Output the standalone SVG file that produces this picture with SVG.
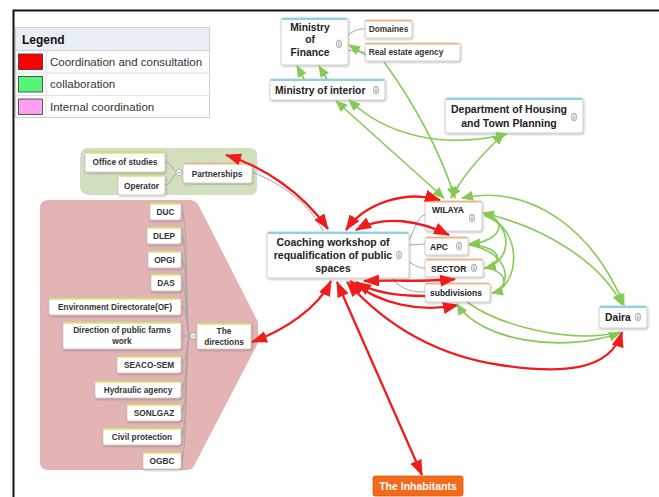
<svg xmlns="http://www.w3.org/2000/svg" xmlns:xlink="http://www.w3.org/1999/xlink" width="659" height="497" viewBox="0 0 659 497">
<style>
.t{font-family:"Liberation Sans",Arial,sans-serif;font-weight:bold;fill:#222}
.s{font-size:8.3px;fill:#333}
.m{font-size:10.3px}
.lg{font-family:"Liberation Sans",Arial,sans-serif;font-size:11.5px;fill:#333}
.box{fill:#fff;stroke:#c4c4c4;stroke-width:0.8}
.red{fill:none;stroke:#f01c1c;stroke-width:2.3}
.grn{fill:none;stroke:#86c954;stroke-width:1.6}
.gry{fill:none;stroke:#a8a8a8;stroke-width:1}
.tb{stroke:#8cd0ea;stroke-width:2.2}
.to{stroke:#f2b27a;stroke-width:1.6}
.ty{stroke:#d9e070;stroke-width:1.8}
</style>
<defs>
<filter id="sh" x="-10%" y="-10%" width="130%" height="140%"><feDropShadow dx="0.8" dy="1.2" stdDeviation="0.8" flood-color="#000" flood-opacity="0.25"/></filter>
<marker id="rh" viewBox="0 0 16 12" refX="15" refY="6" markerWidth="16" markerHeight="12" markerUnits="userSpaceOnUse" orient="auto-start-reverse"><path d="M0,0 L16,6 L0,12 Z" fill="#f01c1c"/></marker>
<marker id="gh" viewBox="0 0 12 10" refX="11" refY="5" markerWidth="12" markerHeight="10" markerUnits="userSpaceOnUse" orient="auto-start-reverse"><path d="M0,0 L12,5 L0,10 Z" fill="#86c954"/></marker>
<symbol id="info" viewBox="-4 -5 8 10" width="8" height="10"><ellipse cx="0" cy="0" rx="2.6" ry="4" fill="#f2f2f2" stroke="#9a9a9a" stroke-width="0.8"/><line x1="0" y1="-1" x2="0" y2="2.5" stroke="#888" stroke-width="0.9"/><circle cx="0" cy="-2.4" r="0.5" fill="#888"/></symbol>
</defs>
<rect width="659" height="497" fill="#fff"/>
<g id="frame"><path d="M13.5,497 V10.5 H659" fill="none" stroke="#111" stroke-width="2"/></g>

<g id="legend">
<rect x="15.5" y="27.5" width="194" height="90" fill="#fff" stroke="#cfcfcf"/>
<rect x="16" y="28" width="193" height="22" fill="#e9edf4"/>
<line x1="15.5" y1="50.5" x2="209.5" y2="50.5" stroke="#cfcfcf"/>
<line x1="15.5" y1="73" x2="209.5" y2="73" stroke="#e0e0e0"/>
<line x1="15.5" y1="95.5" x2="209.5" y2="95.5" stroke="#e0e0e0"/>
<line x1="46" y1="50.5" x2="46" y2="117.5" stroke="#e0e0e0"/>
<text x="22" y="44" font-family="Liberation Sans,Arial,sans-serif" font-weight="bold" font-size="12" fill="#111">Legend</text>
<rect x="18.5" y="54" width="24" height="15.5" fill="#ff0000" stroke="#333" stroke-width="0.8"/>
<rect x="18.5" y="76.5" width="24" height="15.5" fill="#55f57a" stroke="#333" stroke-width="0.8"/>
<rect x="18.5" y="99" width="24" height="15.5" fill="#ff9ff3" stroke="#333" stroke-width="0.8"/>
<text class="lg" x="50" y="65.5">Coordination and consultation</text>
<text class="lg" x="50" y="88">collaboration</text>
<text class="lg" x="50" y="110.5">Internal coordination</text>
</g>

<g id="backgrounds">
<path d="M88,148 H250 Q257,148 257,155 V188 Q257,195 250,195 H90 Q80,195 80,186 V157 Q80,148 88,148 Z" fill="#d2dfbf"/>
<path d="M49,200 H190 Q196,200 199,206 L258,322 V343 L194,466 Q192,470 187,470 H48 Q40,470 40,462 V208 Q40,200 49,200 Z" fill="#e4b4b4"/>
</g>

<g id="tree-links">
<path class="gry" d="M348,35 C355,30 358,29 365,29"/>
<path class="gry" d="M348,50 C355,52 358,52 365,52"/>
<path class="gry" d="M165,162 C172,162 172,172 179,172"/>
<path class="gry" d="M165,185 C172,185 172,173 179,173"/>
<line class="gry" x1="182" y1="173" x2="183" y2="173"/>
<path class="gry" d="M181,211 C189,211 185,336 190,336"/>
<path class="gry" d="M181,235 C188,235 185,336 190,336"/>
<path class="gry" d="M181,259 C188,259 185,336 190,336"/>
<path class="gry" d="M181,282 C188,282 185,336 190,336"/>
<path class="gry" d="M181,306 C188,306 186,336 190,336"/>
<path class="gry" d="M181,336 L190,336"/>
<path class="gry" d="M181,364 C188,364 186,336 190,336"/>
<path class="gry" d="M181,389 C188,389 185,336 190,336"/>
<path class="gry" d="M181,412 C188,412 185,336 190,336"/>
<path class="gry" d="M181,436 C188,436 185,336 190,336"/>
<path class="gry" d="M181,460 C188,460 185,336 190,336"/>
<line class="gry" x1="196" y1="336" x2="197" y2="336"/>
<path class="gry" d="M252,172 C285,185 310,205 323,231"/>
<path class="gry" d="M409,240 C416,226 418,216 425,215"/>
<path class="gry" d="M409,245 L425,244"/>
<path class="gry" d="M409,262 C416,266 418,268 425,268"/>
<path class="gry" d="M392,279 C404,291 414,292 425,292"/>
<circle cx="179" cy="172.5" r="3" fill="#fff" stroke="#999" stroke-width="0.7"/><line x1="177.5" y1="172.5" x2="180.5" y2="172.5" stroke="#777" stroke-width="0.7"/>
<circle cx="193" cy="336" r="3" fill="#fff" stroke="#999" stroke-width="0.7"/><line x1="191.5" y1="336" x2="194.5" y2="336" stroke="#777" stroke-width="0.7"/>
</g>

<g id="n-finance"><rect class="box" filter="url(#sh)" x="281" y="18" width="67" height="47" rx="2"/><line class="tb" x1="282" y1="19" x2="347" y2="19"/>
<text class="t m" text-anchor="middle"><tspan x="310" y="31">Ministry</tspan><tspan x="310" y="43">of</tspan><tspan x="310" y="56">Finance</tspan></text><use href="#info" x="335" y="39"/></g>
<g id="n-domaines"><rect class="box" filter="url(#sh)" x="365" y="20" width="47" height="18" rx="2"/><line class="to" x1="366" y1="20.8" x2="411" y2="20.8"/><text class="t s" x="388.5" y="32" text-anchor="middle">Domaines</text></g>
<g id="n-realestate"><rect class="box" filter="url(#sh)" x="365" y="43" width="95" height="18" rx="2"/><line class="to" x1="366" y1="43.8" x2="459" y2="43.8"/><text class="t s" x="406" y="55" text-anchor="middle">Real estate agency</text></g>
<g id="n-interior"><rect class="box" filter="url(#sh)" x="270" y="79" width="115" height="21" rx="2"/><line class="tb" x1="271" y1="80" x2="384" y2="80"/><text class="t m" x="275" y="94">Ministry of interior</text><use href="#info" x="372" y="85"/></g>
<g id="n-housing"><rect class="box" filter="url(#sh)" x="445" y="98" width="138" height="35" rx="2"/><line class="tb" x1="446" y1="99" x2="582" y2="99"/>
<text class="t" font-size="10.5" text-anchor="middle"><tspan x="509" y="113">Department of Housing</tspan><tspan x="509" y="127">and Town Planning</tspan></text><use href="#info" x="570" y="112"/></g>

<g id="n-office"><rect class="box" filter="url(#sh)" x="85" y="152" width="80" height="20" rx="2"/><line class="ty" x1="86" y1="152.8" x2="164" y2="152.8"/><text class="t s" x="125" y="165" text-anchor="middle">Office of studies</text></g>
<g id="n-operator"><rect class="box" filter="url(#sh)" x="118" y="175" width="47" height="20" rx="2"/><line class="ty" x1="119" y1="175.8" x2="164" y2="175.8"/><text class="t s" x="141.5" y="188.5" text-anchor="middle">Operator</text></g>
<g id="n-partnerships"><rect class="box" filter="url(#sh)" x="183" y="163" width="69" height="20" rx="2"/><line class="to" x1="184" y1="163.8" x2="251" y2="163.8"/><text class="t s" x="217" y="176.5" text-anchor="middle">Partnerships</text></g>

<g id="n-duc"><rect class="box" filter="url(#sh)" x="150" y="203" width="31" height="17" rx="2"/><line class="ty" x1="151" y1="203.8" x2="180" y2="203.8"/><text class="t s" x="165.5" y="215" text-anchor="middle">DUC</text></g>
<g id="n-dlep"><rect class="box" filter="url(#sh)" x="147" y="227" width="34" height="17" rx="2"/><line class="ty" x1="148" y1="227.8" x2="180" y2="227.8"/><text class="t s" x="164" y="239" text-anchor="middle">DLEP</text></g>
<g id="n-opgi"><rect class="box" filter="url(#sh)" x="148" y="251" width="33" height="17" rx="2"/><line class="ty" x1="149" y1="251.8" x2="180" y2="251.8"/><text class="t s" x="164.5" y="263" text-anchor="middle">OPGI</text></g>
<g id="n-das"><rect class="box" filter="url(#sh)" x="151" y="274" width="30" height="17" rx="2"/><line class="ty" x1="152" y1="274.8" x2="180" y2="274.8"/><text class="t s" x="166" y="286" text-anchor="middle">DAS</text></g>
<g id="n-env"><rect class="box" filter="url(#sh)" x="49" y="298" width="132" height="17" rx="2"/><line class="ty" x1="50" y1="298.8" x2="180" y2="298.8"/><text class="t s" x="115" y="310" text-anchor="middle">Environment Directorate(OF)</text></g>
<g id="n-farms"><rect class="box" filter="url(#sh)" x="63" y="322" width="118" height="27" rx="2"/><line class="ty" x1="64" y1="322.8" x2="180" y2="322.8"/><text class="t s" text-anchor="middle"><tspan x="122" y="333">Direction of public farms</tspan><tspan x="122" y="344">work</tspan></text></g>
<g id="n-seaco"><rect class="box" filter="url(#sh)" x="117" y="356" width="64" height="17" rx="2"/><line class="ty" x1="118" y1="356.8" x2="180" y2="356.8"/><text class="t s" x="149" y="368" text-anchor="middle">SEACO-SEM</text></g>
<g id="n-hydraulic"><rect class="box" filter="url(#sh)" x="95" y="381" width="86" height="17" rx="2"/><line class="ty" x1="96" y1="381.8" x2="180" y2="381.8"/><text class="t s" x="138" y="393" text-anchor="middle">Hydraulic agency</text></g>
<g id="n-sonlgaz"><rect class="box" filter="url(#sh)" x="127" y="404" width="54" height="17" rx="2"/><line class="ty" x1="128" y1="404.8" x2="180" y2="404.8"/><text class="t s" x="154" y="416" text-anchor="middle">SONLGAZ</text></g>
<g id="n-civil"><rect class="box" filter="url(#sh)" x="103" y="428" width="78" height="17" rx="2"/><line class="ty" x1="104" y1="428.8" x2="180" y2="428.8"/><text class="t s" x="142" y="440" text-anchor="middle">Civil protection</text></g>
<g id="n-ogbc"><rect class="box" filter="url(#sh)" x="143" y="452" width="38" height="17" rx="2"/><line class="ty" x1="144" y1="452.8" x2="180" y2="452.8"/><text class="t s" x="162" y="464" text-anchor="middle">OGBC</text></g>
<g id="n-directions"><rect class="box" filter="url(#sh)" x="197" y="323" width="54" height="26" rx="2"/><line class="ty" x1="198" y1="323.8" x2="250" y2="323.8"/><text class="t s" text-anchor="middle"><tspan x="224" y="334">The</tspan><tspan x="224" y="345">directions</tspan></text></g>

<g id="n-coaching"><rect class="box" filter="url(#sh)" x="267" y="232" width="142" height="46" rx="2"/><line class="tb" x1="268" y1="233" x2="408" y2="233"/>
<text class="t" font-size="10.5" text-anchor="middle"><tspan x="333" y="246">Coaching workshop of</tspan><tspan x="333" y="259">requalification of public</tspan><tspan x="333" y="272">spaces</tspan></text><use href="#info" x="395" y="250"/></g>
<g id="n-wilaya"><rect class="box" filter="url(#sh)" x="425" y="201" width="57" height="30" rx="2"/><line class="to" x1="426" y1="201.8" x2="481" y2="201.8"/><text class="t" font-size="8.5" x="432" y="213">WILAYA</text><use href="#info" x="468" y="213"/></g>
<g id="n-apc"><rect class="box" filter="url(#sh)" x="425" y="237" width="43" height="18" rx="2"/><line class="to" x1="426" y1="237.8" x2="467" y2="237.8"/><text class="t" font-size="8.5" x="430" y="249.5">APC</text><use href="#info" x="455" y="241"/></g>
<g id="n-sector"><rect class="box" filter="url(#sh)" x="425" y="259" width="58" height="18" rx="2"/><line class="to" x1="426" y1="259.8" x2="482" y2="259.8"/><text class="t" font-size="8.5" x="431" y="271.5">SECTOR</text><use href="#info" x="470" y="263"/></g>
<g id="n-subdivisions"><rect class="box" filter="url(#sh)" x="425" y="283" width="65" height="19" rx="2"/><line class="to" x1="426" y1="283.8" x2="489" y2="283.8"/><text class="t" font-size="8.5" x="430" y="296">subdivisions</text></g>
<g id="n-daira"><rect class="box" filter="url(#sh)" x="599" y="306" width="48" height="22" rx="2"/><line class="tb" x1="600" y1="307" x2="646" y2="307"/><text class="t m" x="605" y="321">Daira</text><use href="#info" x="634" y="312"/></g>
<g id="n-inhabitants"><rect x="373" y="476" width="90" height="20" rx="2" fill="#f26a1b" stroke="#e05a10" stroke-width="0.8"/><text x="418" y="490" text-anchor="middle" font-family="Liberation Sans,Arial,sans-serif" font-size="10.5" font-weight="bold" fill="#fff">The Inhabitants</text></g>

<g id="connectors">
<path class="red" marker-start="url(#rh)" marker-end="url(#rh)" d="M226,155 C262,166 302,192 328,229"/>
<path class="red" marker-start="url(#rh)" marker-end="url(#rh)" d="M252,342 C285,330 318,308 331,281"/>
<path class="red" marker-start="url(#rh)" marker-end="url(#rh)" d="M422,475 L337,282"/>
<path class="red" marker-start="url(#rh)" marker-end="url(#rh)" d="M440,200 C405,190 365,203 346,230"/>
<path class="red" marker-start="url(#rh)" marker-end="url(#rh)" d="M449,235 C420,221 385,214 356,230"/>
<path class="red" marker-start="url(#rh)" marker-end="url(#rh)" d="M455,279 C430,282 392,280 364,281"/>
<path class="red" marker-end="url(#rh)" d="M425,296 C395,296 372,292 356,282"/>
<path class="red" marker-start="url(#rh)" marker-end="url(#rh)" d="M458,305 C420,313 380,304 350,281"/>
<path class="red" marker-start="url(#rh)" marker-end="url(#rh)" d="M622,332 C610,372 560,374 500,365 C440,356 390,330 347,282"/>
<path class="grn" marker-end="url(#gh)" d="M304,79 L297,66"/>
<path class="grn" marker-end="url(#gh)" d="M327,79 L319,66"/>
<path class="grn" marker-end="url(#gh)" d="M366,55 L349,45"/>
<path class="grn" marker-end="url(#gh)" d="M384,62 C412,100 440,150 455,198"/>
<path class="grn" marker-start="url(#gh)" marker-end="url(#gh)" d="M336,101 L444,198"/>
<path class="grn" marker-start="url(#gh)" marker-end="url(#gh)" d="M349,100 C385,134 440,150 507,134"/>
<path class="grn" marker-start="url(#gh)" marker-end="url(#gh)" d="M451,198 C465,172 484,152 504,134"/>
<path class="grn" marker-start="url(#gh)" marker-end="url(#gh)" d="M462,198 C530,184 592,228 624,305"/>
<path class="grn" marker-start="url(#gh)" marker-end="url(#gh)" d="M483,213 C540,226 600,260 622,305"/>
<path class="grn" marker-end="url(#gh)" d="M484,214 C508,218 503,242 469,244"/>
<path class="grn" marker-end="url(#gh)" d="M484,215 C514,224 512,262 485,268"/>
<path class="grn" marker-end="url(#gh)" d="M485,216 C524,228 520,287 492,293"/>
<path class="grn" d="M469,245 C500,246 506,262 485,268"/>
<path class="grn" d="M469,245 C510,252 514,286 492,293"/>
<path class="grn" d="M484,268 C508,270 510,289 492,293"/>
<path class="grn" marker-start="url(#gh)" marker-end="url(#gh)" d="M457,304 C480,340 560,354 620,333"/>
<path class="grn" d="M467,302 C500,326 570,344 620,332"/>
</g>
</svg>
